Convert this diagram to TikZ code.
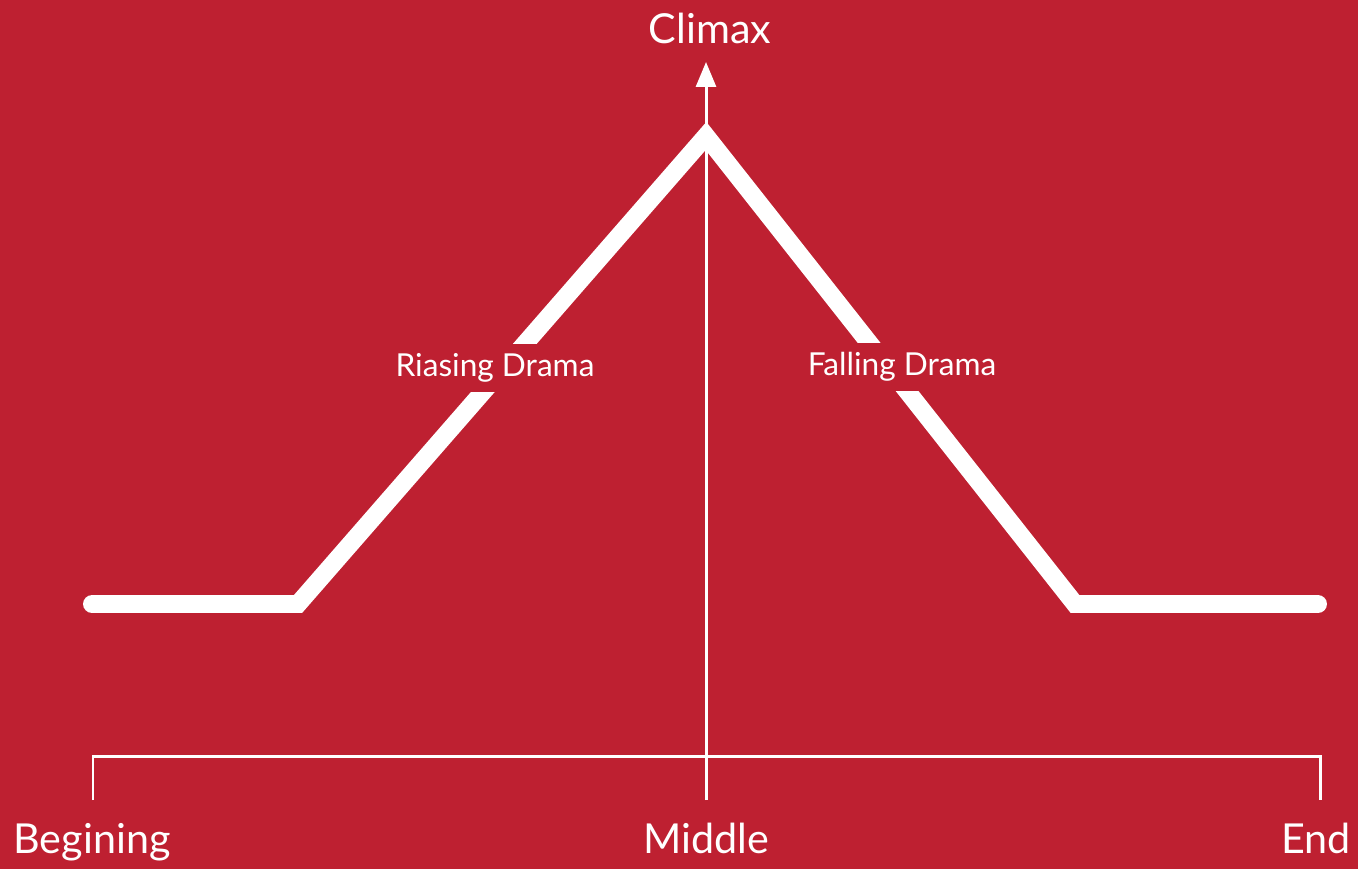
\documentclass[tikz,border=0pt]{standalone}
\usepackage{fontspec}
\setmainfont{Lato}
\usepackage{tikz}
\usetikzlibrary{arrows.meta,positioning}
\usepackage{xcolor}
\definecolor{dramared}{RGB}{190,32,49}
\definecolor{dramawhite}{RGB}{255,255,255}
\tikzstyle{plotline} = [line width=10.2pt, line cap=round, line join=miter, color=dramawhite]
\tikzstyle{thinline} = [line width=1.7pt, color=dramawhite]

\begin{document}
\begin{tikzpicture}[x=0.02cm, y=-0.02cm,
    biglabel/.style={text=dramawhite, font=\fontsize{23.5}{28}\selectfont, anchor=base},
    droplabel/.style={text=dramawhite, fill=dramared, font=\fontsize{18}{22}\selectfont, minimum height=0.96cm, inner xsep=2pt}]

% Background
\fill[dramared] (0,0) rectangle (1358,869);
\useasboundingbox (0,0) rectangle (1358,869);

% Dramatic curve
\coordinate (start) at (92,604);
\coordinate (rise) at (298,604);
\coordinate (peak) at (706,136);
\coordinate (fall) at (1075,604);
\coordinate (finish) at (1318,604);
\draw[plotline] (start) -- (rise) -- (peak) -- (fall) -- (finish);

% Curve labels
\node[droplabel] (rising) at (495,368) {Riasing Drama};
\node[droplabel] (falling) at (902,367) {Falling Drama};

% Time axis
\coordinate (begtick) at (93,800);
\coordinate (begcorner) at (93,756);
\coordinate (endcorner) at (1320,756);
\coordinate (endtick) at (1320,800);
\coordinate (midtick) at (706,800);
\coordinate (top) at (706,62);
\draw[thinline] (begtick) -- (begcorner) -- (endcorner) -- (endtick);
\draw[thinline, -{Triangle[width=0.4cm, length=0.5cm]}] (midtick) -- (top);

% Axis labels
\node[biglabel] (climax) at (710,43) {Climax};
\node[biglabel] (beginning) at (92,853) {Begining};
\node[biglabel] (middle) at (706,853) {Middle};
\node[biglabel] (end) at (1316,853) {End};
\end{tikzpicture}
\end{document}
